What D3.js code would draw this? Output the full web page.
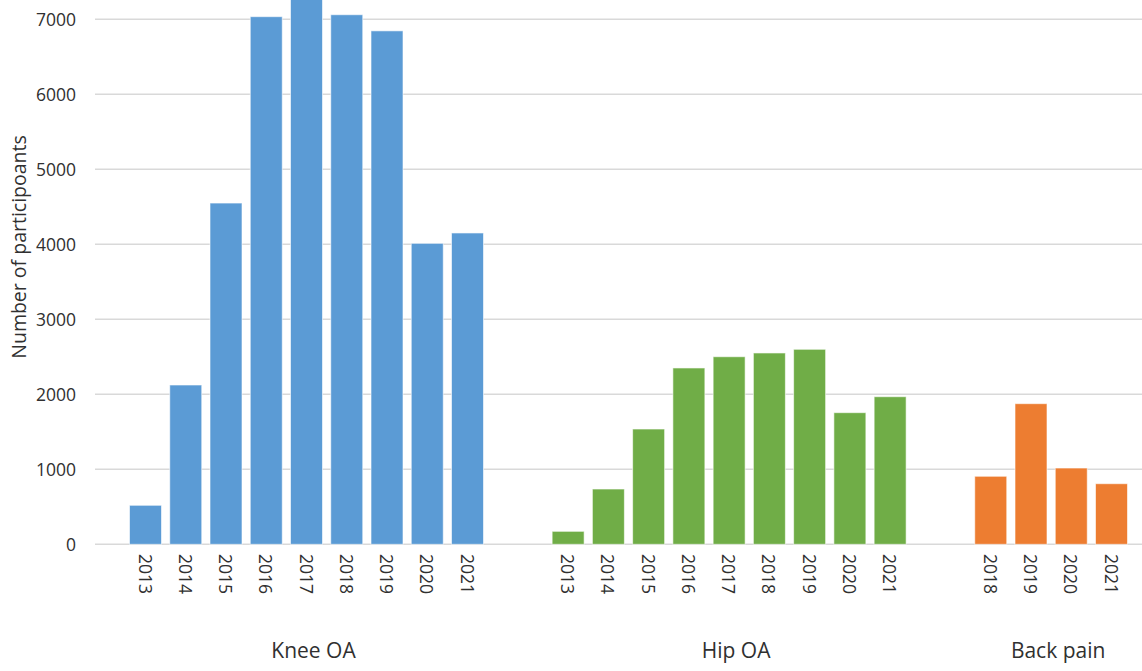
<!DOCTYPE html>
<html>
<head>
<meta charset="utf-8">
<script src="https://cdn.jsdelivr.net/npm/d3@7"></script>
<style>
  body { margin: 0; background: #fff; }
  text { font-family: "Open Sans", "Noto Sans", sans-serif; fill: #303030; }
</style>
</head>
<body>
<script>
// data
const groups = ['Knee OA', 'Hip OA', 'Back pain']
const kneeYears = ['2013', '2014', '2015', '2016', '2017', '2018', '2019', '2020', '2021']
const kneeValues = [520, 2124, 4550, 7035, 7500, 7061, 6846, 4013, 4151]
const hipYears = ['2013', '2014', '2015', '2016', '2017', '2018', '2019', '2020', '2021']
const hipValues = [173, 737, 1537, 2351, 2501, 2551, 2600, 1755, 1968]
const backYears = ['2018', '2019', '2020', '2021']
const backValues = [907, 1875, 1017, 808]
const yTicks = [0, 1000, 2000, 3000, 4000, 5000, 6000, 7000]
const colors = ['#5B9BD5', '#70AD47', '#ED7D31']

const width = 1142, height = 671
const groupGap = 2.5 // empty slots between groups

const svg = d3.select('body').append('svg')
  .attr('width', width)
  .attr('height', height)

// build flat list of bars with slot index
let rows = []
let slot = 0
;[[kneeYears, kneeValues], [hipYears, hipValues], [backYears, backValues]].forEach(([yrs, vals], gi) => {
  yrs.forEach((yr, i) => {
    rows.push({ group: gi, year: yr, value: vals[i], slot: slot })
    slot += 1
  })
  slot += groupGap - 1
})

const x = d3.scaleLinear().domain([0, 1]).range([145.5, 185.75])
const barW = 32
const y = d3.scaleLinear().domain([0, 7000]).range([544.3, 19.3])

// gridlines
svg.append('g')
  .selectAll('line')
  .data(yTicks)
  .enter()
  .append('line')
  .attr('x1', 95)
  .attr('x2', width)
  .attr('y1', d => y(d))
  .attr('y2', d => y(d))
  .attr('stroke', '#d9d9d9')
  .attr('stroke-width', 1.5)

// y tick labels
svg.append('g')
  .selectAll('text')
  .data(yTicks)
  .enter()
  .append('text')
  .attr('x', 76)
  .attr('y', d => y(d))
  .attr('text-anchor', 'end')
  .attr('dominant-baseline', 'central')
  .style('font-size', '17.5px')
  .text(d => d)

// y title
svg.append('text')
  .attr('transform', 'translate(18, 247)rotate(-90)')
  .attr('text-anchor', 'middle')
  .attr('dominant-baseline', 'central')
  .style('font-size', '19.5px')
  .text('Number of participoants')

// bars
svg.append('g')
  .selectAll('rect')
  .data(rows)
  .enter()
  .append('rect')
  .attr('x', d => x(d.slot) - barW / 2)
  .attr('width', barW)
  .attr('y', d => y(d.value))
  .attr('height', d => y(0) - y(d.value))
  .attr('fill', d => colors[d.group])
  .attr('stroke', 'rgba(255,255,255,0.6)')
  .attr('stroke-width', 1)

// year labels
svg.append('g')
  .selectAll('text')
  .data(rows)
  .enter()
  .append('text')
  .attr('transform', d => 'translate(' + x(d.slot) + ', 554)rotate(90)')
  .attr('dominant-baseline', 'central')
  .style('font-size', '17.5px')
  .text(d => d.year)

// group labels
svg.append('g')
  .selectAll('text')
  .data(groups)
  .enter()
  .append('text')
  .attr('x', (g, gi) => {
    let s = rows.filter(r => r.group === gi).map(r => r.slot)
    return x((d3.min(s) + d3.max(s)) / 2) + 7
  })
  .attr('y', 658)
  .attr('text-anchor', 'middle')
  .style('font-size', '21px')
  .text(d => d)
</script>
</body>
</html>
